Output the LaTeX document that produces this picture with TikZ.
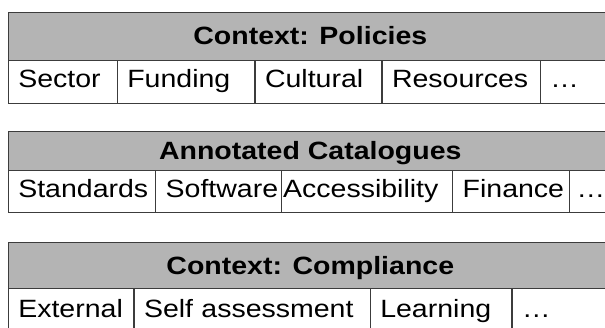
\documentclass[tikz,border=0pt]{standalone}
\usepackage{fontspec}
\setmainfont{Liberation Sans}[FakeStretch=1.14]
\usepackage{tikz}
\usetikzlibrary{positioning}
\definecolor{bandgray}{RGB}{180,180,180}
\definecolor{linegray}{RGB}{60,60,60}
\tikzstyle{band} = [draw=linegray, line width=1.4pt, fill=bandgray,
    anchor=north west, outer sep=0pt, inner sep=0pt, minimum width=604pt,
    text height=18pt, text depth=1pt, font=\fontsize{25}{29}\selectfont\bfseries]
\tikzstyle{cell} = [draw=linegray, line width=1.4pt, outer sep=0pt,
    inner xsep=10pt, inner ysep=0pt, align=left,
    text height=18pt, text depth=7pt, font=\fontsize{25}{29}\selectfont]

\begin{document}
\begin{tikzpicture}[x=1pt, y=-1pt]
	\useasboundingbox (0,0) rectangle (605,327);
	\begin{scope}[node distance=0pt]
	\node[band, name=policies, minimum height=48pt] at (8.3,12.3) (policies) {Context: Policies};
	\node[cell, name=sector, anchor=north west, minimum height=43pt, text width=89pt] at (policies.south west) (sector) {Sector};
	\node[cell, name=funding, right=of sector, minimum height=43pt, text width=117.7pt] (funding) {Funding};
	\node[cell, name=cultural, right=of funding, minimum height=43pt, text width=107pt] (cultural) {Cultural};
	\node[cell, name=resources, right=of cultural, minimum height=43pt, text width=138.3pt] (resources) {Resources};
	\node[cell, name=moreA, right=of resources, minimum height=43pt, text width=50pt] (moreA) {\dots};

	\node[band, name=catalogues, minimum height=39pt] at (8.3,131.7) (catalogues) {Annotated Catalogues};
	\node[cell, name=standards, anchor=north west, minimum height=42pt, text width=127.4pt] at (catalogues.south west) (standards) {Standards};
	\node[cell, name=software, right=of standards, minimum height=42pt, text width=106pt] (software) {Software};
	\node[cell, name=access, right=of software, minimum height=42pt, inner xsep=1.5pt, text width=168pt] (access) {Accessibility};
	\node[cell, name=finance, right=of access, minimum height=42pt, text width=97pt] (finance) {Finance};
	\node[cell, name=moreB, right=of finance, minimum height=42pt, inner xsep=7pt, text width=31pt] (moreB) {\dots};

	\node[band, name=compliance, minimum height=45.6pt] at (8.3,242.7) (compliance) {Context: Compliance};
	\node[cell, name=external, anchor=north west, minimum height=47pt, text width=105.7pt] at (compliance.south west) (external) {External};
	\node[cell, name=selfassess, right=of external, minimum height=47pt, text width=216.3pt] (selfassess) {Self assessment};
	\node[cell, name=learning, right=of selfassess, minimum height=47pt, text width=121.7pt] (learning) {Learning};
	\node[cell, name=moreC, right=of learning, minimum height=47pt, text width=80pt] (moreC) {\dots};
	\end{scope}
\end{tikzpicture}
\end{document}
